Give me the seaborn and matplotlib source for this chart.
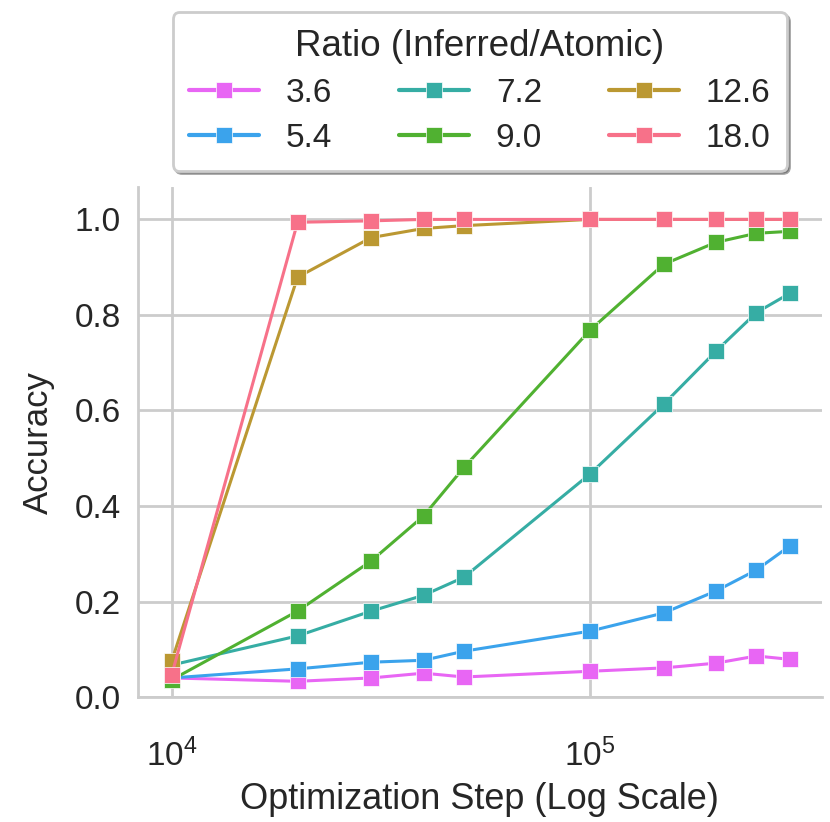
import pandas as pd
import numpy as np
import matplotlib.pyplot as plt
import seaborn as sns

# Données
steps = [10000, 20000, 30000, 40000, 50000, 100000, 150000, 200000, 250000, 300000]
ratios = ['3.6', '5.4', '7.2', '9.0', '12.6', '18.0']
acc_3_6 = [0.040, 0.033, 0.040, 0.050, 0.042, 0.054, 0.061, 0.071, 0.086, 0.079]
acc_5_4 = [0.040, 0.059, 0.073, 0.077, 0.096, 0.138, 0.176, 0.222, 0.266, 0.316]
acc_7_2 = [0.067, 0.128, 0.180, 0.213, 0.251, 0.467, 0.613, 0.724, 0.805, 0.845]
acc_9_0 = [0.036, 0.180, 0.285, 0.379, 0.481, 0.768, 0.906, 0.952, 0.971, 0.975]
acc_12_6 = [0.075, 0.879, 0.962, 0.981, 0.987, 1.0, 1.0, 1.0, 1.0, 1.0]
acc_18_0 = [0.046, 0.994, 0.997, 1.0, 1.0, 1.0, 1.0, 1.0, 1.0, 1.0]

series = [acc_3_6, acc_5_4, acc_7_2, acc_9_0, acc_12_6, acc_18_0]
rows = []
for r, vals in zip(ratios, series):
    for s, v in zip(steps, vals):
        rows.append({'Step': s, 'Accuracy': v, 'Ratio': r})
df = pd.DataFrame(rows)

sns.set_theme(style='whitegrid')
plt.rcParams['font.family'] = ['Liberation Sans', 'DejaVu Sans']

palette = sns.color_palette('husl', 6)[::-1]

fig, ax = plt.subplots(figsize=(8.3, 8.22), dpi=100)
sns.lineplot(data=df, x='Step', y='Accuracy', hue='Ratio', hue_order=ratios,
             palette=palette, marker='s', markersize=11.5, markeredgecolor='white',
             markeredgewidth=0.5, linewidth=2.2, ax=ax)
ax.set_xscale('log')
ax.set_xlim(8300, 358000)
ax.set_ylim(0, 1.067)
ax.set_yticks([0.0, 0.2, 0.4, 0.6, 0.8, 1.0])
ax.set_yticklabels(['0.0', '0.2', '0.4', '0.6', '0.8', '1.0'])
ax.minorticks_off()
ax.grid(True, color='#cccccc', linewidth=2)
for sp in ['left', 'bottom']:
    ax.spines[sp].set_color('#cccccc')
    ax.spines[sp].set_linewidth(2)
sns.despine(ax=ax)
ax.tick_params(axis='y', labelsize=24, pad=6)
ax.tick_params(axis='x', labelsize=24, pad=24)
ax.set_xlabel('Optimization Step (Log Scale)', fontsize=26, labelpad=6)
ax.set_ylabel('Accuracy', fontsize=25, labelpad=14)

leg = ax.legend(title='Ratio (Inferred/Atomic)', ncol=3, loc='lower center',
                bbox_to_anchor=(0.5, 1.0), fontsize=24, title_fontsize=26.5,
                frameon=True, shadow=True, fancybox=True, handlelength=2.1,
                columnspacing=2.0, handletextpad=0.8, borderpad=0.5,
                labelspacing=0.42)
leg.get_frame().set_edgecolor('#cccccc')
leg.get_frame().set_linewidth(2)
for h in leg.legend_handles:
    h.set_linewidth(3)

fig.subplots_adjust(left=0.166, right=0.99, bottom=0.152, top=0.772)
fig.savefig('out.png', dpi=100)
